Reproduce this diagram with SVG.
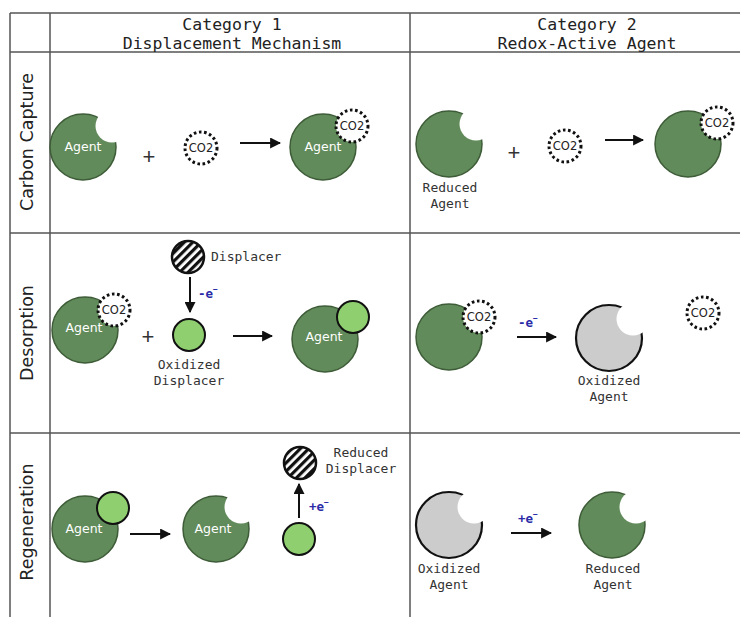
<svg xmlns="http://www.w3.org/2000/svg" width="740" height="617" viewBox="0 0 740 617">
<defs>
<style>
.grid{stroke:#555;stroke-width:1.5;fill:none}
.hdr{font-family:"DejaVu Sans Mono","Liberation Mono",monospace;font-size:16.5px;fill:#222;text-anchor:middle}
.row{font-family:"DejaVu Sans","Liberation Sans",sans-serif;font-size:17.5px;fill:#222;text-anchor:middle}
.agent{fill:#618b5a;stroke:#3d5c37;stroke-width:1.5}
.ox{fill:#cccccc;stroke:#111;stroke-width:2.2}
.bite{fill:#fff;stroke:none}
.agtxt{font-family:"DejaVu Sans","Liberation Sans",sans-serif;font-size:12.5px;fill:#fff;text-anchor:middle}
.co2{fill:#fff;stroke:#111;stroke-width:3;stroke-dasharray:2.6 2.6}
.co2t{font-family:"DejaVu Sans","Liberation Sans",sans-serif;font-size:11.5px;fill:#222;text-anchor:middle}
.disp{fill:#8fcf70;stroke:#111;stroke-width:2}
.hatch{fill:url(#stripes);stroke:#111;stroke-width:2.5}
.lbl{font-family:"DejaVu Sans Mono","Liberation Mono",monospace;font-size:13px;fill:#333}
.mid{text-anchor:middle}
.el{font-family:"DejaVu Sans Mono","Liberation Mono",monospace;font-size:12.5px;fill:#2b2ba8;font-weight:bold}
.plus{font-family:"Liberation Sans","DejaVu Sans",sans-serif;font-size:22px;fill:#333;text-anchor:middle}
.arr{stroke:#111;stroke-width:2;fill:none;marker-end:url(#ah)}
</style>
<pattern id="stripes" patternUnits="userSpaceOnUse" width="6" height="6" patternTransform="rotate(45)">
<rect width="6" height="6" fill="#fff"/>
<rect width="3.2" height="6" fill="#111"/>
</pattern>
<marker id="ah" viewBox="0 0 10 10" refX="9" refY="5" markerWidth="5.5" markerHeight="5.5" orient="auto" markerUnits="strokeWidth">
<path d="M0,0 L10,5 L0,10 z" fill="#111"/>
</marker>
</defs>
<rect width="740" height="617" fill="#fff"/>
<g id="grid">
<line class="grid" x1="10" y1="13" x2="740" y2="13"/>
<line class="grid" x1="10" y1="52" x2="740" y2="52"/>
<line class="grid" x1="10" y1="233" x2="740" y2="233"/>
<line class="grid" x1="10" y1="433" x2="740" y2="433"/>
<line class="grid" x1="10" y1="13" x2="10" y2="617"/>
<line class="grid" x1="50" y1="13" x2="50" y2="617"/>
<line class="grid" x1="410" y1="13" x2="410" y2="617"/>
</g>
<g id="headers">
<text class="hdr" x="232" y="30">Category 1</text>
<text class="hdr" x="232" y="49">Displacement Mechanism</text>
<text class="hdr" x="587" y="30">Category 2</text>
<text class="hdr" x="587" y="49">Redox-Active Agent</text>
<text class="row" transform="translate(33,142) rotate(-90)">Carbon Capture</text>
<text class="row" transform="translate(33,333) rotate(-90)">Desorption</text>
<text class="row" transform="translate(33,522) rotate(-90)">Regeneration</text>
</g>
<!-- Row 1, Category 1 -->
<g id="r1c1-agent">
<circle class="agent" cx="83" cy="147" r="33"/>
<circle class="bite" cx="112" cy="126" r="16.5"/>
<text class="agtxt" x="83" y="151">Agent</text>
</g>
<text class="plus" x="149" y="164">+</text>
<g id="r1c1-co2">
<circle class="co2" cx="201" cy="148" r="16"/>
<text class="co2t" x="201" y="152">CO2</text>
</g>
<g id="r1c1-product">
<circle class="agent" cx="323" cy="147" r="33"/>
<text class="agtxt" x="323" y="151">Agent</text>
<circle class="co2" cx="352" cy="126" r="16"/>
<text class="co2t" x="352" y="130">CO2</text>
</g>
<!-- Row 1, Category 2 -->
<g id="r1c2-reduced">
<circle class="agent" cx="449" cy="144" r="33"/>
<circle class="bite" cx="476" cy="124" r="16.5"/>
<text class="lbl mid" x="450" y="192">Reduced</text>
<text class="lbl mid" x="450" y="208">Agent</text>
</g>
<text class="plus" x="514" y="160">+</text>
<g id="r1c2-co2">
<circle class="co2" cx="565" cy="146" r="16"/>
<text class="co2t" x="565" y="150">CO2</text>
</g>
<g id="r1c2-product">
<circle class="agent" cx="688" cy="144" r="33"/>
<circle class="co2" cx="717" cy="123" r="16"/>
<text class="co2t" x="717" y="127">CO2</text>
</g>
<!-- Row 2, Category 1 -->
<g id="r2c1-agent">
<circle class="agent" cx="85" cy="330" r="33"/>
<text class="agtxt" x="84" y="332">Agent</text>
<circle class="co2" cx="114" cy="310" r="16"/>
<text class="co2t" x="114" y="314">CO2</text>
</g>
<text class="plus" x="148" y="344">+</text>
<g id="r2c1-displacer">
<circle class="hatch" cx="188" cy="257" r="16"/>
<text class="lbl" x="211" y="261">Displacer</text>
</g>
<g id="r2c1-oxdisp">
<circle class="disp" cx="189" cy="335" r="16"/>
<text class="lbl mid" x="189" y="369">Oxidized</text>
<text class="lbl mid" x="189" y="385">Displacer</text>
</g>
<g id="r2c1-product">
<circle class="agent" cx="325" cy="339" r="33"/>
<text class="agtxt" x="324" y="341">Agent</text>
<circle class="disp" cx="353" cy="317" r="16"/>
</g>
<!-- Row 2, Category 2 -->
<g id="r2c2-agent">
<circle class="agent" cx="449" cy="337" r="33"/>
<circle class="co2" cx="479" cy="317" r="16"/>
<text class="co2t" x="479" y="321">CO2</text>
</g>
<g id="r2c2-oxagent">
<circle class="ox" cx="609" cy="338" r="33"/>
<circle class="bite" cx="633" cy="319" r="16.5"/>
<text class="lbl mid" x="609" y="385">Oxidized</text>
<text class="lbl mid" x="609" y="401">Agent</text>
</g>
<g id="r2c2-co2">
<circle class="co2" cx="703" cy="313" r="16"/>
<text class="co2t" x="703" y="317">CO2</text>
</g>
<!-- Row 3, Category 1 -->
<g id="r3c1-agent">
<circle class="agent" cx="85" cy="529" r="33"/>
<text class="agtxt" x="84" y="533">Agent</text>
<circle class="disp" cx="113" cy="508" r="16"/>
</g>
<g id="r3c1-free">
<circle class="agent" cx="216" cy="529" r="33"/>
<circle class="bite" cx="241" cy="507" r="16.5"/>
<text class="agtxt" x="213" y="533">Agent</text>
</g>
<g id="r3c1-reddisp">
<circle class="hatch" cx="300" cy="463" r="16"/>
<text class="lbl mid" x="361" y="457">Reduced</text>
<text class="lbl mid" x="361" y="473">Displacer</text>
</g>
<g id="r3c1-oxdisp">
<circle class="disp" cx="299" cy="539" r="16"/>
</g>
<!-- Row 3, Category 2 -->
<g id="r3c2-oxagent">
<circle class="ox" cx="449" cy="525" r="33"/>
<circle class="bite" cx="474" cy="507" r="16.5"/>
<text class="lbl mid" x="449" y="573">Oxidized</text>
<text class="lbl mid" x="449" y="589">Agent</text>
</g>
<g id="r3c2-reduced">
<circle class="agent" cx="612" cy="525" r="33"/>
<circle class="bite" cx="636" cy="507" r="16.5"/>
<text class="lbl mid" x="613" y="573">Reduced</text>
<text class="lbl mid" x="613" y="589">Agent</text>
</g>
<g id="connectors">
<line class="arr" x1="240" y1="143" x2="280" y2="143"/>
<line class="arr" x1="605" y1="140" x2="643" y2="140"/>
<line class="arr" x1="190" y1="277" x2="190" y2="312"/>
<text class="el" x="198" y="298">-e<tspan font-size="8" dy="-6">−</tspan></text>
<line class="arr" x1="233" y1="336" x2="272" y2="336"/>
<line class="arr" x1="517" y1="337" x2="556" y2="337"/>
<text class="el" x="518" y="327">-e<tspan font-size="8" dy="-6">−</tspan></text>
<line class="arr" x1="130" y1="534" x2="170" y2="534"/>
<line class="arr" x1="299" y1="518" x2="299" y2="484"/>
<text class="el" x="309" y="511">+e<tspan font-size="8" dy="-6">−</tspan></text>
<line class="arr" x1="511" y1="533" x2="551" y2="533"/>
<text class="el" x="518" y="523">+e<tspan font-size="8" dy="-6">−</tspan></text>
</g>
</svg>
